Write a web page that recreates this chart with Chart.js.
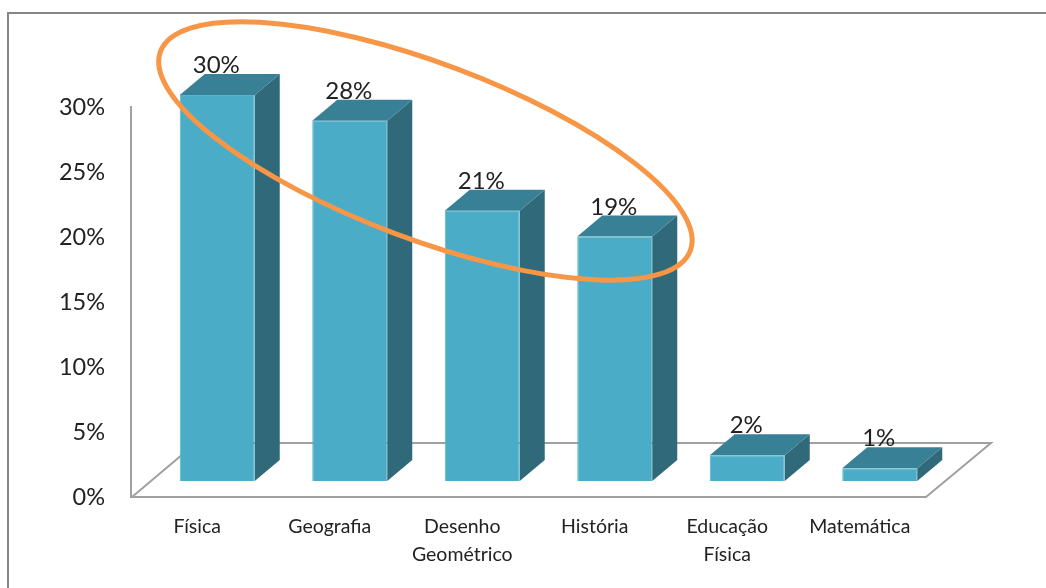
<!DOCTYPE html>
<html>
<head>
<meta charset="utf-8">
<title>Disciplinas</title>
<script src="https://cdn.jsdelivr.net/npm/chart.js@4"></script>
<style>
  html, body { margin: 0; padding: 0; background: #fff; overflow: hidden; }
  #wrap { position: relative; width: 1046px; height: 588px; }
  #frame { position: absolute; left: 7px; top: 12px; right: 0; bottom: 0; border-top: 2px solid #868686; border-left: 2px solid #868686; }
  canvas { position: absolute; left: 0; top: 0; }
</style>
</head>
<body>
<div id="wrap">
  <div id="frame"></div>
  <canvas id="chart" width="1046" height="588"></canvas>
</div>
<script>
const categories = ['Física', 'Geografia', ['Desenho', 'Geométrico'], 'História', ['Educação', 'Física'], 'Matemática'];
const values = [30, 28, 21, 19, 2, 1];
const tickValues = [0, 5, 10, 15, 20, 25, 30];

// Highlight ellipse, anchored in data space (category index, percent)
const ellipseCategory = 1.722;
const ellipseValue = 26.62;

const FONT = 'Lato, "Open Sans", sans-serif';
const FRONT = '#4AACC7';
const TOP = '#388096';
const SIDE = '#306A7A';
const AXIS = '#A0A0A0';
const TEXT = '#222222';

// The 3D look: bars stand inside a tilted floor
const barShiftX = 20;
const barDepthX = 25;
const barDepthY = 21;
const floorDepthX = 65;
const floorDepthY = 54;

const floorPlugin = {
  id: 'floor3d',
  beforeDatasetsDraw(chart) {
    const { ctx, chartArea: area } = chart;
    ctx.save();
    ctx.strokeStyle = AXIS;
    ctx.lineWidth = 2;
    ctx.beginPath();
    ctx.moveTo(area.left + 1, area.bottom);
    ctx.lineTo(area.left + floorDepthX, area.bottom - floorDepthY);
    ctx.lineTo(area.right + floorDepthX, area.bottom - floorDepthY);
    ctx.lineTo(area.right, area.bottom);
    ctx.stroke();
    ctx.restore();

    // side and top faces, then the front (library bars) in the same shifted space
    ctx.save();
    ctx.translate(barShiftX, 0);
    chart.getDatasetMeta(0).data.forEach(bar => {
      const left = bar.x - bar.width / 2;
      const right = bar.x + bar.width / 2;
      ctx.fillStyle = SIDE;
      ctx.beginPath();
      ctx.moveTo(right, bar.y);
      ctx.lineTo(right + barDepthX, bar.y - barDepthY);
      ctx.lineTo(right + barDepthX, bar.base - barDepthY);
      ctx.lineTo(right, bar.base);
      ctx.closePath();
      ctx.fill();
      ctx.fillStyle = TOP;
      ctx.beginPath();
      ctx.moveTo(left, bar.y);
      ctx.lineTo(left + barDepthX, bar.y - barDepthY);
      ctx.lineTo(right + barDepthX, bar.y - barDepthY);
      ctx.lineTo(right, bar.y);
      ctx.closePath();
      ctx.fill();
    });
  },
  afterDatasetsDraw(chart) {
    const { ctx } = chart;
    ctx.restore();

    // Data labels
    ctx.save();
    ctx.font = '24px ' + FONT;
    ctx.fillStyle = TEXT;
    ctx.textAlign = 'center';
    ctx.textBaseline = 'alphabetic';
    chart.getDatasetMeta(0).data.forEach((bar, i) => {
      ctx.fillText(values[i] + '%', bar.x + barShiftX - 1, bar.y - barDepthY - 1);
    });
    ctx.restore();

    // Orange ellipse
    ctx.save();
    ctx.strokeStyle = '#F79646';
    ctx.lineWidth = 5;
    ctx.beginPath();
    ctx.ellipse(
      chart.scales.x.getPixelForValue(ellipseCategory),
      chart.scales.y.getPixelForValue(ellipseValue),
      283, 88, 20.6 * Math.PI / 180, 0, Math.PI * 2
    );
    ctx.stroke();
    ctx.restore();
  }
};

new Chart(document.getElementById('chart'), {
  type: 'bar',
  data: {
    labels: categories,
    datasets: [{
      data: values,
      yAxisID: 'yBars',
      backgroundColor: FRONT,
      borderColor: '#58B3CC',
      borderWidth: 1,
      barPercentage: 0.566,
      categoryPercentage: 1,
      clip: false
    }]
  },
  options: {
    responsive: false,
    animation: false,
    layout: { padding: { top: 107, right: 120, left: 0, bottom: 0 } },
    plugins: { legend: { display: false }, tooltip: { enabled: false } },
    scales: {
      x: {
        grid: { display: false, drawTicks: false },
        border: { display: true, color: AXIS, width: 2 },
        afterFit(scale) { scale.height = 91; },
        ticks: {
          color: TEXT,
          font: { family: FONT, size: 19.5, lineHeight: 1.43 },
          padding: 16,
          maxRotation: 0,
          minRotation: 0,
          autoSkip: false
        }
      },
      y: {
        min: 0,
        max: 30,
        grid: { display: false, drawTicks: false },
        border: { display: true, color: AXIS, width: 2 },
        afterFit(scale) { scale.width = 131; },
        afterBuildTicks(scale) { scale.ticks = tickValues.map(v => ({ value: v })); },
        ticks: {
          color: TEXT,
          font: { family: FONT, size: 23.5 },
          padding: 26,
          callback: v => v + '%'
        }
      },
      // Bars are drawn a little smaller than the axis and raised on the floor
      yBars: {
        display: false,
        min: -1.243,
        max: 29.07
      }
    }
  },
  plugins: [floorPlugin]
});
</script>
</body>
</html>
